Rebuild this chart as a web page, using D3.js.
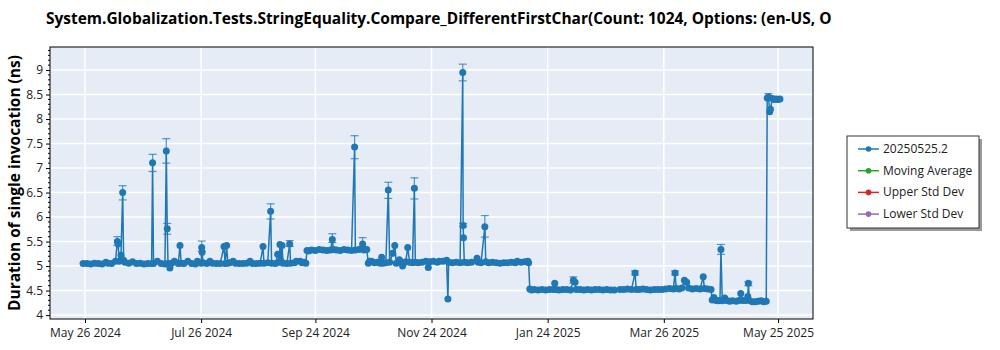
<!DOCTYPE html>
<html>
<head>
<meta charset="utf-8">
<script src="https://cdn.jsdelivr.net/npm/d3@7"></script>
<style>
  html, body { margin: 0; padding: 0; background: #ffffff; }
  svg { display: block; }
  text { font-family: "Open Sans", "Noto Sans", sans-serif; }
</style>
</head>
<body>
<svg id="chart" width="1000" height="350"></svg>
<script>
// ---------------- data ----------------
const titleText = "System.Globalization.Tests.StringEquality.Compare_DifferentFirstChar(Count: 1024, Options: (en-US, O";
const yAxisLabel = "Duration of single invocation (ns)";
const startDate = "2024-05-26";

// days since startDate
const dayOffsets = [
  -1, 1, 3, 5, 7, 9, 11, 12, 14, 16, 17, 17.4, 18, 18.9, 19.8, 20.3, 21, 23, 25, 27, 29, 31, 33, 35, 35.5, 36, 38, 40, 42, 42.7, 43.2, 43.6, 44.6, 45.5, 47, 49, 49.9, 50.5, 52, 54, 56, 58, 59, 61, 61.3, 61.5, 62, 64, 65.6, 67, 69, 71, 73, 73.6, 74.4, 75, 76, 77.8, 79, 81, 83, 85, 86.7, 88, 90, 92, 93.5, 94, 96, 97.5, 98, 100, 101.2, 102, 102.4, 103, 103.5, 104, 106, 107.5, 108, 110, 111, 113, 114, 115, 116,
  116.6, 117.5, 119, 121, 123, 125, 127, 129, 129.9, 130.5, 132, 134, 136, 138, 140, 141.6, 142, 144, 145.8, 146.5, 148,
  148.8, 149.5, 150.5, 152, 153.5, 155, 155.8, 156.5, 158, 159.3, 160, 161.6, 162.7, 163.5, 165.1, 166, 166.8, 167.5, 168.5, 169.5, 170.5, 172, 173, 173.5, 175, 177, 179, 180.3, 181, 183, 185, 186, 188, 189.9, 190.6, 191, 193, 195, 197, 198.4, 198.6, 198.8, 199.2, 201, 203, 205.9, 206.5, 208, 210, 210.5, 212, 214, 216, 218, 220, 222, 224, 226, 227, 229, 231, 232.6, 233,
  233.6, 234.5, 236, 238, 240, 242, 244, 246, 246.7, 247.5, 249, 251, 253, 255, 256.5, 257.4, 258, 260, 262, 264, 266, 268, 270, 272, 274, 276, 278, 281, 283, 285, 287, 288.9, 289.5, 291, 293, 295, 297, 299, 301, 303, 305, 307, 309, 309.9, 310.5, 312, 313.5, 314.8, 316, 317, 319, 321, 323, 324.7, 325.3, 327, 328.8,
  329.4, 330.3, 331.5, 332.5, 333.5, 334, 334.7, 336, 337, 338.5, 340, 342, 343.5, 344.4, 345.5, 347, 348.1, 348.4, 349, 350.5, 352, 353.5, 355, 356.5, 357.8,
  358.3, 359, 359.6, 360, 361, 362, 363, 364, 365
];
const values = [
  5.05, 5.05, 5.04, 5.06, 5.05, 5.04, 5.08, 5.06, 5.05, 5.10, 5.50, 5.45, 5.10, 5.22, 6.50, 5.12, 5.08, 5.06, 5.09, 5.05, 5.06, 5.04, 5.05, 5.05, 7.11, 5.05, 5.10, 5.05, 5.04, 7.35, 5.76, 5.05, 4.96, 5.06, 5.10, 5.05, 5.42, 5.06, 5.05, 5.10, 5.05, 5.04, 5.10, 5.06, 5.38, 5.28, 5.07, 5.05, 5.10, 5.06, 5.05, 5.05, 5.40, 5.05, 5.42, 5.06, 5.07, 5.10, 5.06, 5.05, 5.05, 5.06, 5.10, 5.05, 5.05, 5.06, 5.40, 5.06, 5.07, 6.12, 5.06, 5.05, 5.24, 5.08, 5.44, 5.10, 5.42, 5.06, 5.05, 5.45, 5.06, 5.07, 5.10, 5.10, 5.07, 5.08, 5.06,
  5.32, 5.31, 5.33, 5.32, 5.34, 5.33, 5.32, 5.33, 5.54, 5.34, 5.33, 5.32, 5.34, 5.33, 5.32, 7.43, 5.33, 5.34, 5.45, 5.33, 5.34,
  5.06, 5.10, 5.10, 5.07, 5.08, 5.06, 5.18, 5.06, 5.07, 6.55, 5.08, 5.26, 5.42, 5.06, 5.13, 5.08, 5.00, 5.07, 5.09, 5.38, 5.08, 5.07, 6.59, 5.08, 5.07, 5.08, 5.10, 4.97, 5.09, 5.10, 5.08, 5.10, 5.10, 5.12, 4.33, 5.08, 5.07, 5.08, 5.07, 8.95, 5.83, 5.58, 5.08, 5.07, 5.08, 5.16, 5.08, 5.07, 5.80, 5.09, 5.07, 5.08, 5.07, 5.06, 5.07, 5.07, 5.08, 5.07, 5.10, 5.08, 5.09, 5.10, 5.07,
  4.53, 4.51, 4.52, 4.51, 4.52, 4.51, 4.52, 4.52, 4.65, 4.52, 4.51, 4.52, 4.52, 4.51, 4.71, 4.67, 4.52, 4.52, 4.51, 4.52, 4.51, 4.52, 4.52, 4.51, 4.52, 4.51, 4.51, 4.52, 4.52, 4.53, 4.52, 4.86, 4.52, 4.52, 4.53, 4.52, 4.51, 4.52, 4.52, 4.52, 4.53, 4.54, 4.53, 4.86, 4.54, 4.53, 4.55, 4.71, 4.67, 4.55, 4.53, 4.54, 4.53, 4.78, 4.54, 4.53, 4.52,
  4.31, 4.36, 4.30, 4.29, 4.30, 5.34, 4.29, 4.35, 4.30, 4.28, 4.29, 4.28, 4.30, 4.44, 4.30, 4.30, 4.38, 4.65, 4.30, 4.27, 4.27, 4.28, 4.29, 4.27, 4.28,
  8.43, 8.45, 8.15, 8.20, 8.42, 8.40, 8.41, 8.40, 8.41
];

// error bars on the outlying runs
const errDayOffsets = [17, 19.8, 35.5, 42.7, 43.2, 61.3, 97.5, 107.5, 129.9, 141.6, 145.8, 159.3, 173, 198.4, 198.6, 210, 256.5, 288.9, 309.9, 334, 348.4, 359];
const errLow  = [5.42, 6.35, 6.93, 7.10, 5.65, 5.30, 5.96, 5.40, 5.48, 7.19, 5.40, 6.38, 6.37, 8.78, 5.80, 5.59, 4.65, 4.82, 4.82, 5.24, 4.60, 8.40];
const errHigh = [5.60, 6.64, 7.28, 7.60, 5.87, 5.51, 6.27, 5.52, 5.66, 7.66, 5.58, 6.71, 6.80, 9.12, 5.87, 6.03, 4.78, 4.90, 4.90, 5.44, 4.68, 8.52];

const xTickDates = ["2024-05-26", "2024-07-26", "2024-09-24", "2024-11-24", "2025-01-24", "2025-03-26", "2025-05-25"];
const yTickValues = [4, 4.5, 5, 5.5, 6, 6.5, 7, 7.5, 8, 8.5, 9];
const xDomainDates = ["2024-05-07T15:00", "2025-06-12T08:24"];
const yDomain = [3.92, 9.47];

const legendLabels = ["20250525.2", "Moving Average", "Upper Std Dev", "Lower Std Dev"];
const legendColors = ["#1f77b4", "#2ca02c", "#d62728", "#9467bd"];

// ---------------- drawing ----------------
const svg = d3.select("#chart");
const M = { left: 50, right: 813, top: 47, bottom: 319 };
const parseDay = d3.utcParse("%Y-%m-%d");
const parseDT = d3.utcParse("%Y-%m-%dT%H:%M");
const start = parseDay(startDate);

const x = d3.scaleUtc().domain(xDomainDates.map(parseDT)).range([M.left, M.right]);
const y = d3.scaleLinear().domain(yDomain).range([M.bottom, M.top]);

const toDate = d => new Date(start.getTime() + d * 86400000);
const points = dayOffsets.map((d, i) => ({ date: toDate(d), v: values[i] }));
const errs = errDayOffsets.map((d, i) => ({ date: toDate(d), lo: errLow[i], hi: errHigh[i] }));

// plot background
svg.append("rect")
  .attr("x", M.left).attr("y", M.top)
  .attr("width", M.right - M.left).attr("height", M.bottom - M.top)
  .attr("fill", "#e5ecf6");

// grid
const grid = svg.append("g");
grid.selectAll(".gy").data(yTickValues).enter().append("line")
  .attr("x1", M.left).attr("x2", M.right)
  .attr("y1", d => y(d)).attr("y2", d => y(d))
  .attr("stroke", "#ffffff").attr("stroke-width", 1.5);
grid.selectAll(".gx").data(xTickDates.map(parseDay)).enter().append("line")
  .attr("y1", M.top).attr("y2", M.bottom)
  .attr("x1", d => x(d)).attr("x2", d => x(d))
  .attr("stroke", "#ffffff").attr("stroke-width", 1.5);

// clip
svg.append("clipPath").attr("id", "clip").append("rect")
  .attr("x", M.left).attr("y", M.top)
  .attr("width", M.right - M.left).attr("height", M.bottom - M.top);
const plot = svg.append("g").attr("clip-path", "url(#clip)");

const color = legendColors[0];

// error bars
const eb = plot.append("g").attr("stroke", color).attr("stroke-opacity", 0.75).attr("stroke-width", 1.2);
errs.forEach(e => {
  const cx = x(e.date);
  eb.append("line").attr("x1", cx).attr("x2", cx).attr("y1", y(e.lo)).attr("y2", y(e.hi));
  eb.append("line").attr("x1", cx - 4).attr("x2", cx + 4).attr("y1", y(e.lo)).attr("y2", y(e.lo));
  eb.append("line").attr("x1", cx - 4).attr("x2", cx + 4).attr("y1", y(e.hi)).attr("y2", y(e.hi));
});

// line
plot.append("path")
  .datum(points)
  .attr("fill", "none")
  .attr("stroke", color)
  .attr("stroke-width", 1.5)
  .attr("d", d3.line().x(d => x(d.date)).y(d => y(d.v)));

// markers
plot.append("g").selectAll("circle").data(points).enter().append("circle")
  .attr("cx", d => x(d.date)).attr("cy", d => y(d.v)).attr("r", 3.5)
  .attr("fill", color);

// frame
svg.append("rect")
  .attr("x", M.left).attr("y", M.top)
  .attr("width", M.right - M.left).attr("height", M.bottom - M.top)
  .attr("fill", "none").attr("stroke", "#000").attr("stroke-width", 1);

// y axis
const yAxis = d3.axisLeft(y).tickValues(yTickValues).tickSize(4).tickPadding(3).tickFormat(d3.format("~g"));
const gy = svg.append("g").attr("transform", `translate(${M.left},0)`).call(yAxis);
gy.select(".domain").remove();
gy.selectAll("text").attr("font-size", 12).attr("fill", "#222").style("font-family", "\"Open Sans\", sans-serif");
const minorY = d3.range(39, 95).map(k => k / 10).filter(v => v >= yDomain[0] && v <= yDomain[1] && Math.abs(v * 2 - Math.round(v * 2)) > 1e-6);
svg.append("g").selectAll("line").data(minorY).enter().append("line")
  .attr("x1", M.left - 2).attr("x2", M.left)
  .attr("y1", d => y(d)).attr("y2", d => y(d))
  .attr("stroke", "#000").attr("stroke-width", 1);

// x axis
const xAxis = d3.axisBottom(x).tickValues(xTickDates.map(parseDay)).tickSize(4).tickPadding(5).tickFormat(d3.utcFormat("%b %d %Y"));
const gx = svg.append("g").attr("transform", `translate(0,${M.bottom})`).call(xAxis);
gx.select(".domain").remove();
gx.selectAll("text").attr("font-size", 12).attr("fill", "#222").style("font-family", "\"Open Sans\", sans-serif");

// title
const title = svg.append("text")
  .attr("x", 46).attr("y", 24)
  .attr("font-size", 16).attr("font-weight", "bold").attr("fill", "#000")
  .text(titleText);
const tw = title.node().getComputedTextLength();
title.attr("font-size", 16 * 786 / tw);

// y label
const yl = svg.append("text")
  .attr("transform", `translate(20,${(M.top + M.bottom) / 2}) rotate(-90)`)
  .attr("text-anchor", "middle")
  .attr("font-size", 16).attr("font-weight", "bold").attr("fill", "#000")
  .text(yAxisLabel);
const yw = yl.node().getComputedTextLength();
yl.attr("font-size", 16 * 256 / yw);

// legend
const L = { x: 847, y: 136, w: 132, h: 92 };
svg.append("rect").attr("x", L.x + 3).attr("y", L.y + 3).attr("width", L.w).attr("height", L.h).attr("fill", "#9a9a9a");
svg.append("rect").attr("x", L.x).attr("y", L.y).attr("width", L.w).attr("height", L.h).attr("fill", "#fff").attr("stroke", "#333").attr("stroke-width", 1);
const lg = svg.append("g");
legendLabels.forEach((lab, i) => {
  const cy = L.y + 13 + i * 21.7;
  lg.append("line").attr("x1", L.x + 11).attr("x2", L.x + 32).attr("y1", cy).attr("y2", cy).attr("stroke", legendColors[i]).attr("stroke-width", 1.5);
  lg.append("circle").attr("cx", L.x + 21.5).attr("cy", cy).attr("r", 2.8).attr("fill", legendColors[i]);
  lg.append("text").attr("x", L.x + 36).attr("y", cy + 4).attr("font-size", 12).attr("fill", "#222").text(lab);
});
</script>
</body>
</html>
